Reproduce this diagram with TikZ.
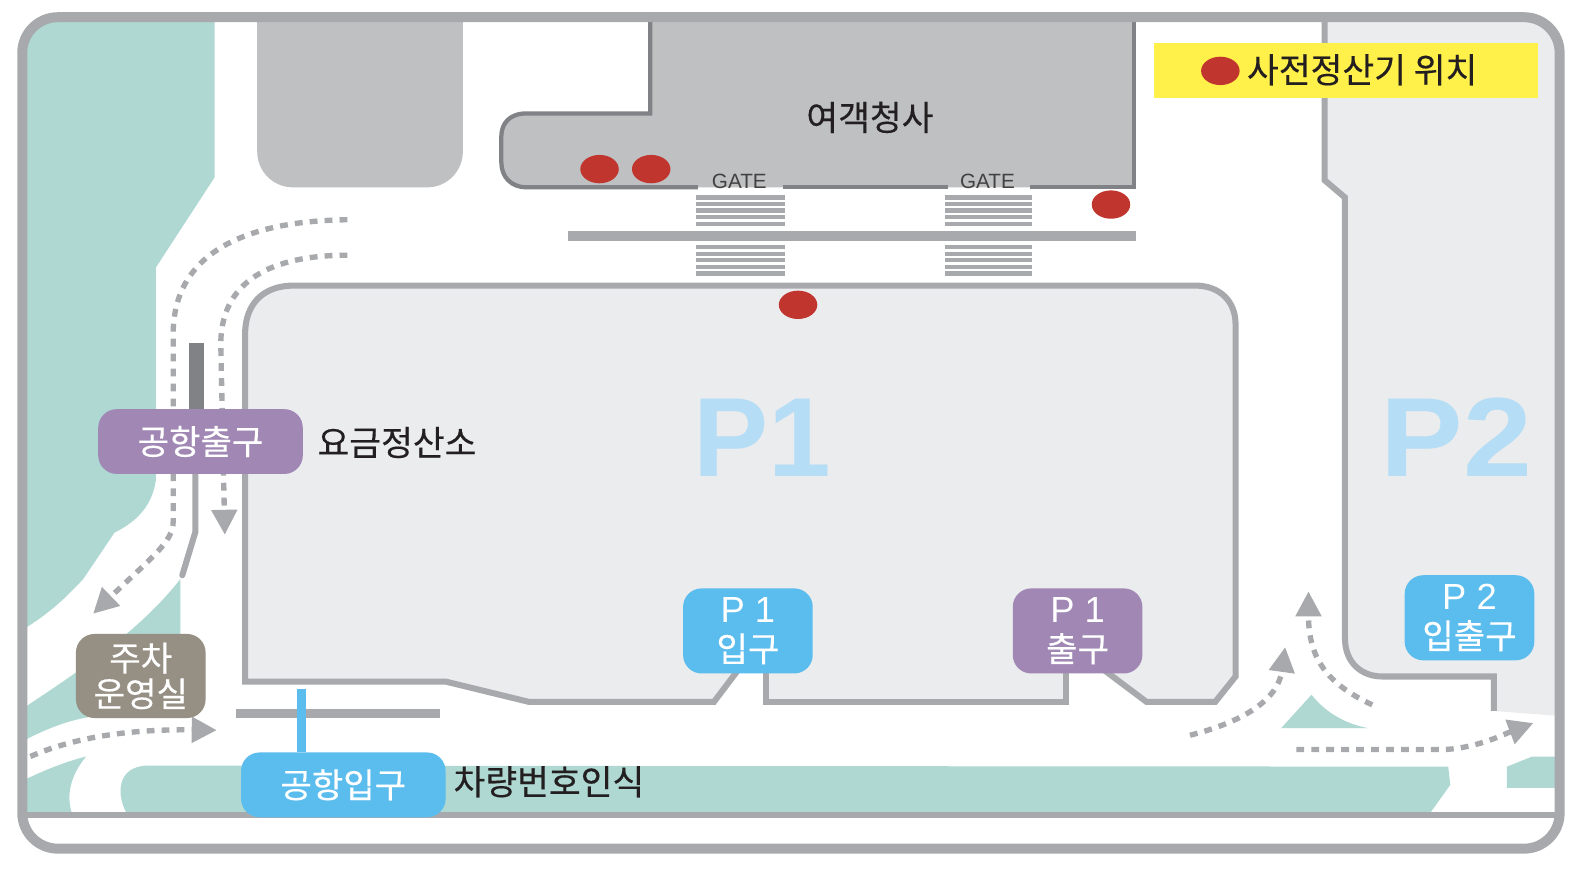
\documentclass[tikz,border=0pt]{standalone}
\usepackage{fontspec}
\setmainfont[FakeBold=0.35]{Noto Sans CJK KR}
\newfontfamily\latf{Liberation Sans}
\usetikzlibrary{arrows.meta}
\definecolor{cadre}{HTML}{A7A9AC}
\definecolor{fonce}{HTML}{808285}
\definecolor{bati}{HTML}{BEC0C2}
\definecolor{parc}{HTML}{EBECEE}
\definecolor{herbe}{HTML}{AFD8D2}
\definecolor{bleu}{HTML}{5BBCEE}
\definecolor{mauve}{HTML}{A087B4}
\definecolor{taupe}{HTML}{958F84}
\definecolor{rouge}{HTML}{C1352F}
\definecolor{jaune}{HTML}{FFF04A}
\definecolor{ciel}{HTML}{B5DDF5}
\definecolor{encre}{HTML}{231F20}
\tikzset{
  plate/.style={rounded corners=5.2pt,inner sep=0pt,text=white,align=center,font=\fontsize{9.6}{10}\selectfont},
  gateplate/.style={plate,minimum width=128*0.01cm,minimum height=84*0.01cm,font=\fontsize{9.6}{10.4}\selectfont},
  label/.style={text=encre,inner sep=0pt,font=\fontsize{9.7}{10}\selectfont},
  route/.style={draw=cadre,line width=1.5pt,dash pattern=on 2.2pt off 2pt,-{Triangle[width=7pt,length=7pt]}},
  bigp/.style={text=ciel,inner sep=0pt,font=\latf\bfseries\fontsize{31.6}{32}\selectfont}
}
\begin{document}
\begin{tikzpicture}[x=0.01cm,y=-0.01cm]
\path[use as bounding box,fill=white] (0,0) rectangle (1568,865);
\begin{scope}
\clip[rounded corners=10pt] (22,17) rectangle (1540,838);
\fill[herbe] (22,17) -- (212,17) -- (212,175) -- (154,264) -- (154,474) .. controls (150,500) and (135,515) .. (113,526) -- (82,572) .. controls (65,590) and (50,605) .. (22,622) -- cycle;
\fill[herbe] (22,700) .. controls (90,655) and (140,620) .. (178,572) -- (178,700) -- (88,708) .. controls (65,712) and (45,720) .. (22,732) -- cycle;
\fill[herbe] (22,771) .. controls (45,760) and (65,752) .. (85,747) .. controls (70,765) and (65,785) .. (71,803) -- (22,803) -- cycle;
\fill[herbe] (1430,757) -- (1432,775) -- (1412,803) -- (125,803) .. controls (115,785) and (115,757) .. (145,756) -- cycle;
\fill[herbe] (1488,757) -- (1513,747) -- (1540,747) -- (1540,778) -- (1488,778) -- cycle;
\fill[herbe] (1265,719) -- (1295,686) .. controls (1310,705) and (1330,715) .. (1351,719) -- cycle;
\fill[bati,rounded corners=10pt] (254,-40) -- (254,185) -- (457,185) -- (457,-40) -- cycle;
\fill[parc] (1308,17) -- (1308,178) -- (1328,195) -- (1328,630) .. controls (1328,655) and (1345,668) .. (1365,668) -- (1475,668) -- (1475,702) -- (1540,707) -- (1540,17) -- cycle;
\end{scope}
\draw[cadre,line width=1.7pt] (1308,17) -- (1308,178) -- (1328,195) -- (1328,630) .. controls (1328,655) and (1345,668) .. (1365,668) -- (1475,668) -- (1475,702);
\fill[bati] (642,17) -- (642,112) -- (520,112) .. controls (503,112) and (495,122) .. (495,135) -- (495,160) .. controls (495,175) and (505,185) .. (520,185) -- (1120,185) -- (1120,17) -- cycle;
\draw[fonce,line width=1.2pt] (642,17) -- (642,112) -- (520,112) .. controls (503,112) and (495,122) .. (495,135) -- (495,160) .. controls (495,175) and (505,185) .. (520,185) -- (689,185);
\draw[fonce,line width=1.2pt] (773,185) -- (936,185);
\draw[fonce,line width=1.2pt] (1017,185) -- (1120,185) -- (1120,17);
\fill[cadre] (561,228) rectangle (1122,238);
\foreach \x/\y in {687/775,933/1019} {
 \foreach \h in {0,...,4} {
  \draw[cadre,line width=1.2pt] (\x,195+6.5*\h) -- (\y,195+6.5*\h);
  \draw[cadre,line width=1.2pt] (\x,244+6.5*\h) -- (\y,244+6.5*\h);
 }
}
\fill[parc] (242,330) .. controls (242,300) and (260,282) .. (290,282) -- (1180,282) .. controls (1205,282) and (1220,298) .. (1220,320) -- (1220,668) -- (1200,693) -- (1132,693) -- (1088,660) -- (1053,660) -- (1053,693) -- (756,693) -- (756,660) -- (730,660) -- (705,693) -- (522,693) -- (440,673) -- (242,673) -- cycle;
\draw[cadre,line width=1.7pt] (1088,660) -- (1132,693) -- (1200,693) -- (1220,668) -- (1220,320) .. controls (1220,298) and (1205,282) .. (1180,282) -- (290,282) .. controls (260,282) and (242,300) .. (242,330) -- (242,673) -- (440,673) -- (522,693) -- (705,693) -- (730,660);
\draw[cadre,line width=1.7pt] (756,660) -- (756,693) -- (1053,693) -- (1053,660);
\fill[fonce] (187,339) rectangle (201,410);
\draw[cadre,line width=1.7pt,line cap=round] (193,460) -- (193,525) -- (180,568);
\fill[cadre] (233,700) rectangle (434,709);
\coordinate (barre) at (298,680);
\draw[route] (343,217) .. controls (260,218) and (171,240) .. (171,330) -- (171,515) .. controls (171,535) and (150,550) .. (92,606);
\draw[route] (343,252) .. controls (280,252) and (218,270) .. (218,340) -- (222,528);
\draw[route] (30,747) .. controls (80,725) and (140,720) .. (214,721);
\draw[route] (1175,726) .. controls (1230,712) and (1262,690) .. (1269,639);
\draw[route] (1355,696) .. controls (1310,675) and (1292,650) .. (1292,584);
\draw[route] (1280,740) -- (1428,740) .. controls (1460,738) and (1485,725) .. (1514,714);
\draw[cadre,line width=1.8pt] (22,805) -- (1540,805);
\draw[cadre,line width=2.8pt,rounded corners=10pt] (22,17) rectangle (1540,838);
\node[fill=jaune,minimum width=380*0.01cm,minimum height=55*0.01cm,inner sep=0pt] (legend) at (1329,69.5) {};
\foreach \x/\y in {1205/70,592/167,643/167,1097/202,788/301} {
 \fill[rouge] (\x,\y) ellipse (19 and 14);
}
\node[label] (legendtxt) at (1345,69) {사전정산기 위치};
\node[label] (terminal) at (859,116) {여객청사};
\node[text=encre!85,inner sep=0pt,font=\latf\fontsize{5.8}{6}\selectfont] (gatea) at (730,179) {GATE};
\node[text=encre!85,inner sep=0pt,font=\latf\fontsize{5.8}{6}\selectfont] (gateb) at (975,179) {GATE};
\node[bigp] (pone) at (753,432) {P1};
\node[bigp,xscale=1.1] (ptwo) at (1438,432) {P2};
\node[plate,fill=mauve,minimum width=202*0.01cm,minimum height=64*0.01cm] (sortie) at (198,436) {공항출구};
\node[label] (caisse) at (392,437) {요금정산소};
\node[plate,fill=bleu,minimum width=202*0.01cm,minimum height=64*0.01cm] (entree) at (339,775) {공항입구};
\draw[bleu,line width=2.6pt] (barre) -- (barre |- entree.north);
\node[label] (plaque) at (542,772) {차량번호인식};
\node[plate,fill=taupe,minimum width=128*0.01cm,minimum height=83*0.01cm] (bureau) at (139,667.5) {주차\\운영실};
\node[gateplate,fill=bleu] (poneent) at (738.5,623) {{\latf\fontsize{10.2}{10}\selectfont P 1}\\[0.6pt]입구};
\node[gateplate,fill=mauve] (ponesor) at (1064,623) {{\latf\fontsize{10.2}{10}\selectfont P 1}\\[0.6pt]출구};
\node[gateplate,fill=bleu] (ptwoent) at (1451,610) {{\latf\fontsize{10.2}{10}\selectfont P 2}\\[0.6pt]입출구};
\end{tikzpicture}
\end{document}
